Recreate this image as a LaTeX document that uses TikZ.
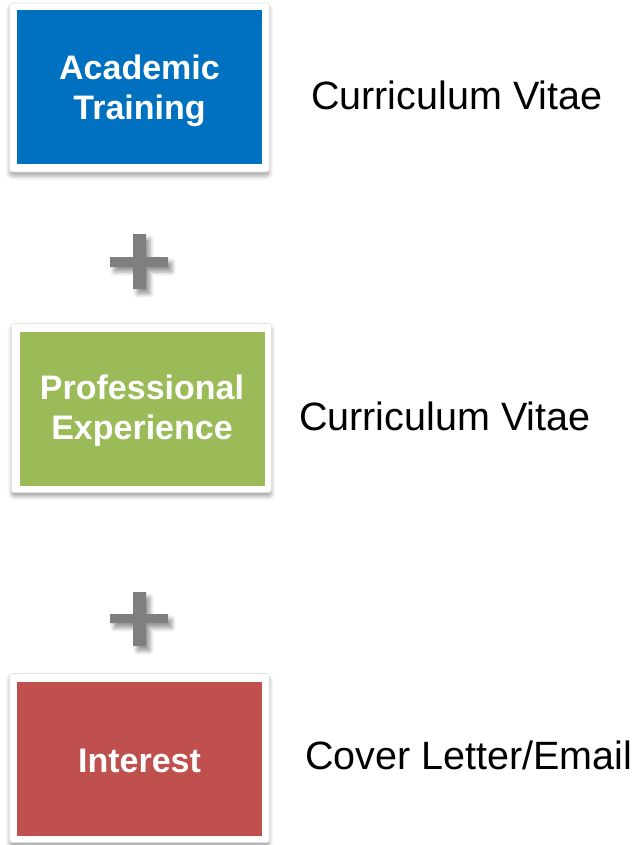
\documentclass[tikz,border=0pt]{standalone}
\usepackage{fontspec}
\setmainfont{Liberation Sans}
\usetikzlibrary{shadows.blur}
\definecolor{cblue}{HTML}{0070C0}
\definecolor{cgreen}{HTML}{9BBB59}
\definecolor{cred}{HTML}{C0504D}
\definecolor{cplus}{HTML}{7F7F7F}
\tikzset{
  frame/.style={rectangle, fill=white, draw=black!12, line width=0.6pt, rounded corners=3pt,
    minimum width=260pt, minimum height=169pt, inner sep=0pt,
    blur shadow={shadow xshift=0pt, shadow yshift=-4pt, shadow blur radius=4pt, shadow opacity=35}},
  inner/.style={rectangle, minimum width=245pt, minimum height=154pt, inner sep=0pt},
  boxtext/.style={text=white, align=center, inner sep=0pt,
    font=\bfseries\fontsize{34}{40}\selectfont},
  sidetext/.style={anchor=base west, inner sep=0pt, text=black,
    font=\fontsize{39.5}{46}\selectfont},
  plus/.style={fill=cplus,
    blur shadow={shadow xshift=4pt, shadow yshift=-5pt, shadow blur radius=4pt, shadow opacity=40}}
}
\begin{document}
\begin{tikzpicture}[x=1pt,y=-1pt]
\useasboundingbox (0,0) rectangle (637,845);
% box 1
\node[frame] (f1) at (139.5,87.5) {};
\node[inner, fill=cblue] (b1) at (139.5,87) {};
\node[boxtext] (t1) at (139.5,91) {Academic\\Training};
\node[sidetext] (cv1) at (311,110) {Curriculum Vitae};
% plus 1
\fill[plus] (133,234) -- (146,234) -- (146,257) -- (168,257) -- (168,267) -- (146,267)
  -- (146,289) -- (133,289) -- (133,267) -- (110,267) -- (110,257) -- (133,257) -- cycle;
% box 2
\node[frame] (f2) at (141.5,408) {};
\node[inner, fill=cgreen] (b2) at (142,408.5) {};
\node[boxtext] (t2) at (142,411) {Professional\\Experience};
\node[sidetext] (cv2) at (299,430) {Curriculum Vitae};
% plus 2
\fill[plus] (133,592) -- (146,592) -- (146,614) -- (168,614) -- (168,623) -- (146,623)
  -- (146,646) -- (133,646) -- (133,623) -- (110,623) -- (110,614) -- (133,614) -- cycle;
% box 3
\node[frame] (f3) at (139.5,758) {};
\node[inner, fill=cred] (b3) at (139.5,759) {};
\node[boxtext, anchor=base] (t3) at (139.5,772) {Interest};
\node[sidetext] (cl) at (305,769) {Cover Letter/Email};
\end{tikzpicture}
\end{document}
